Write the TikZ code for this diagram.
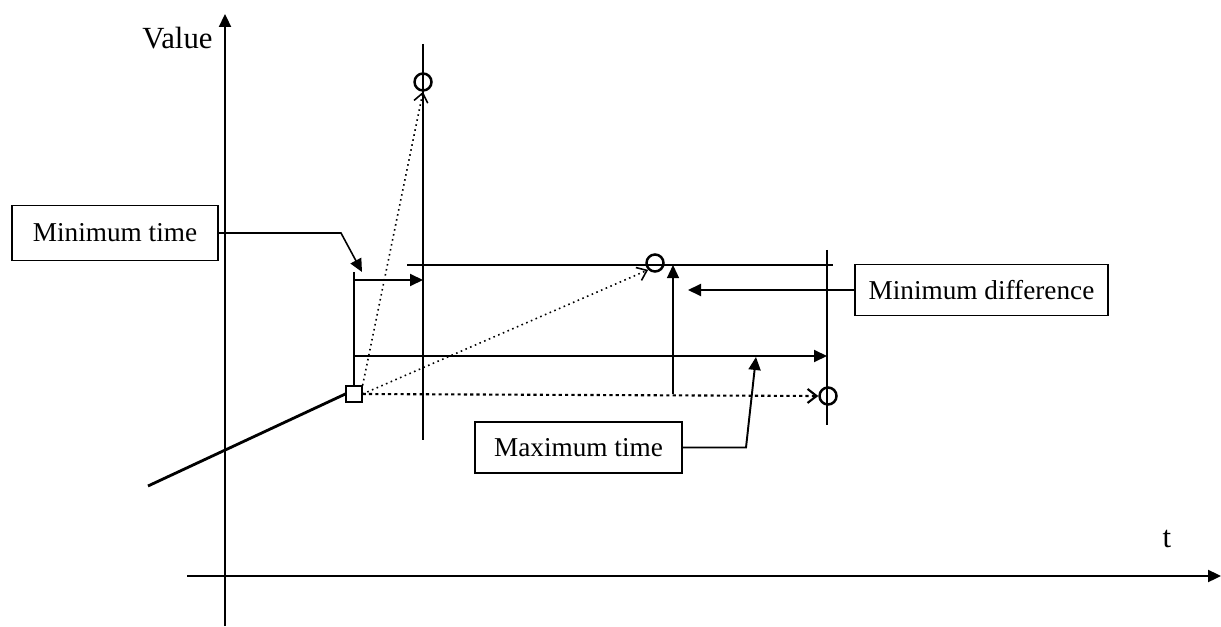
\documentclass[tikz,border=0pt]{standalone}
\usepackage{fontspec}
\setmainfont{Liberation Serif}
\usetikzlibrary{arrows.meta}

\begin{document}
\begin{tikzpicture}[>={Triangle[length=2.6mm,width=2.4mm]},
  callout/.style={draw,line width=0.9pt,minimum height=1.02cm,inner sep=0pt,font=\fontsize{15.5}{18}\selectfont},
  guide/.style={line width=0.7pt},
  trial/.style={dotted,line width=0.9pt,-{Straight Barb[length=1.8mm,width=2.8mm]}},
  sample/.style={circle,draw,line width=1.4pt,minimum size=0.34cm,inner sep=0pt}]

\useasboundingbox (0,0) rectangle (24.42,12.52);

% axes
\draw[->,line width=1.3pt] (3.74,1.0) -- (24.42,1.0);
\draw[->,line width=1.3pt] (4.5,0) -- (4.5,12.24);
\node[font=\fontsize{17.5}{20}\selectfont] (vlabel) at (3.55,11.76) {Value};
\node[font=\fontsize{17.5}{20}\selectfont] (tlabel) at (23.34,1.74) {t};

% grid lines at the candidate times and value
\draw[guide] (8.46,11.64) -- (8.46,3.72);
\draw[guide] (16.54,7.52) -- (16.54,4.02);
\draw[guide] (8.14,7.22) -- (16.66,7.22);

% last kept point and the candidates
\node[draw,line width=0.7pt,fill=white,minimum size=0.32cm,inner sep=0pt] (start) at (7.08,4.64) {};
\node[sample] (ctop) at (8.46,10.88) {};
\node[sample] (cmid) at (13.1,7.26) {};
\node[sample] (cright) at (16.56,4.6) {};

% incoming signal
\coordinate (trend) at (2.96,2.8);
\draw[line width=1.6pt] (trend) -- (start.west);

% tested steps
\draw[trial] (start.north east) -- (ctop.south);
\draw[trial] (start.east) -- (cmid.south west);
\draw[trial,dash pattern=on 1.8pt off 1.8pt,line width=1.2pt] (start.east) -- (cright.west);

% limits
\coordinate (mtop) at (7.08,7.08);
\draw[guide] (start.north) -- (mtop);
\coordinate (mina) at (7.08,6.92);
\coordinate (minb) at (8.46,6.92);
\draw[->,line width=1.1pt] (mina) -- (minb);
\coordinate (maxa) at (7.08,5.4);
\coordinate (maxb) at (16.54,5.4);
\draw[->,line width=1.1pt] (maxa) -- (maxb);
\coordinate (diffa) at (13.46,4.64);
\coordinate (diffb) at (13.46,7.22);
\draw[->,guide] (diffa) -- (diffb);

% labels
\node[callout,minimum width=4.12cm,minimum height=1.1cm] (mintime) at (2.3,7.86) {Minimum time};
\coordinate (mintip) at (7.24,7.08);
\draw[->,line width=0.9pt] (mintime.east) -- (6.82,7.86) -- (mintip);

\node[callout,minimum width=5.06cm] (mindiff) at (19.63,6.72) {Minimum difference};
\coordinate (difftip) at (13.76,6.72);
\draw[->,line width=1.1pt] (mindiff.west) -- (difftip);

\node[callout,minimum width=4.14cm] (maxtime) at (11.57,3.57) {Maximum time};
\coordinate (maxtip) at (15.12,5.38);
\draw[->,line width=1.1pt] (maxtime.east) -- (14.92,3.57) -- (maxtip);

\end{tikzpicture}
\end{document}
